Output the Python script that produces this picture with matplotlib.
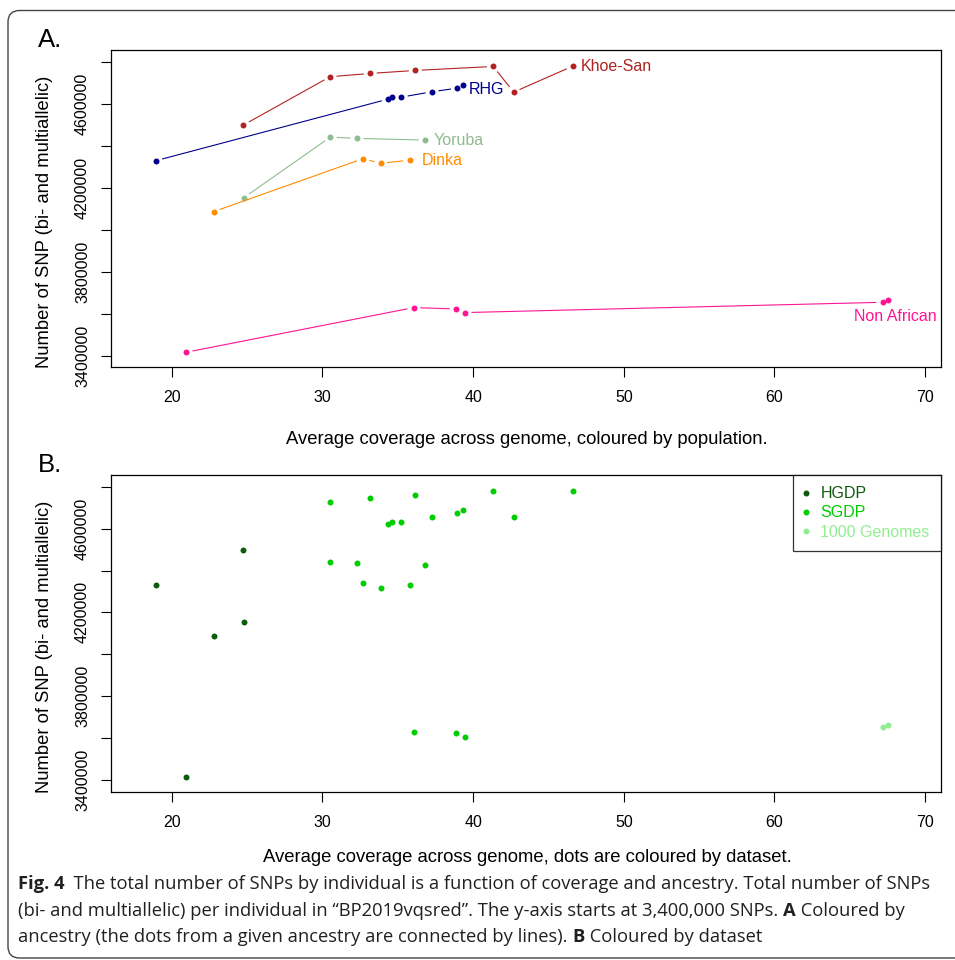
import numpy as np
import matplotlib
matplotlib.use('Agg')
import matplotlib.pyplot as plt
from matplotlib import font_manager
from matplotlib.lines import Line2D
from matplotlib.patches import FancyBboxPatch

# per-individual values
coverage = [24.74, 30.50, 33.17, 36.16, 41.34, 42.69, 46.61,
            18.94, 34.35, 34.63, 35.23, 37.27, 38.95, 39.35,
            24.78, 30.52, 32.29, 36.82,
            22.77, 32.69, 33.86, 35.78,
            20.95, 36.06, 38.88, 39.46, 67.19, 67.51]
snps = [4498000, 4728600, 4744300, 4758600, 4777600, 4655200, 4779000,
        4328600, 4621900, 4630000, 4631400, 4657100, 4674300, 4687100,
        4152400, 4440900, 4434800, 4426700,
        4085700, 4338100, 4315700, 4331400,
        3415700, 3628600, 3621900, 3604800, 3653800, 3663300]
population = ['Khoe-San'] * 7 + ['RHG'] * 7 + ['Yoruba'] * 4 + ['Dinka'] * 4 + ['Non African'] * 6
dataset = ['HGDP'] + ['SGDP'] * 6 + ['HGDP'] + ['SGDP'] * 6 + ['HGDP'] + ['SGDP'] * 3 \
    + ['HGDP'] + ['SGDP'] * 3 + ['HGDP'] + ['SGDP'] * 3 + ['1000 Genomes'] * 2

populations = ['Khoe-San', 'RHG', 'Yoruba', 'Dinka', 'Non African']
datasets = ['HGDP', 'SGDP', '1000 Genomes']

xtick_values = [20, 30, 40, 50, 60, 70]
ytick_values = [3400000, 3600000, 3800000, 4000000, 4200000, 4400000, 4600000, 4800000]
ytick_labels = ['3400000', '', '3800000', '', '4200000', '', '4600000', '']

pop_colors = {'Khoe-San': '#B22222', 'RHG': '#00008B', 'Yoruba': '#8FBC8F',
              'Dinka': '#FF8C00', 'Non African': '#FF1493'}
set_colors = {'HGDP': '#0E5A0E', 'SGDP': '#00CD00', '1000 Genomes': '#90EE90'}

coverage = np.array(coverage)
snps = np.array(snps)
population = np.array(population)
dataset = np.array(dataset)


def pick_font(names):
    have = {f.name for f in font_manager.fontManager.ttflist}
    for n in names:
        if n in have:
            return n
    return 'DejaVu Sans'


plot_font = pick_font(['Liberation Sans', 'Arial', 'DejaVu Sans'])
cap_font = pick_font(['Liberation Sans Narrow', 'Open Sans', 'Noto Sans'])
plt.rcParams['font.family'] = [plot_font, 'DejaVu Sans']

W, H = 955, 960
fig = plt.figure(figsize=(W / 100, H / 100), dpi=100)


def px_axes(left, top, right, bottom):
    return fig.add_axes([left / W, 1 - bottom / H, (right - left) / W, (bottom - top) / H])


def style_axes(ax):
    ax.set_xlim(15.96, 71.04)
    ax.set_ylim(3344000, 4856000)
    ax.set_xticks(xtick_values)
    ax.set_xticklabels([str(v) for v in xtick_values])
    ax.set_yticks(ytick_values)
    ax.set_yticklabels(ytick_labels, rotation=90, va='center', ha='center')
    ax.tick_params(length=7.5, width=0.8, labelsize=11.5, direction='out')
    ax.tick_params(axis='x', pad=9)
    ax.tick_params(axis='y', pad=13)
    for s in ax.spines.values():
        s.set_linewidth(0.9)


def gapped_line(ax, xs, ys, color, gap=7):
    # R type="b": segments stop short of the points
    pts = ax.transData.transform(np.column_stack([xs, ys]))
    inv = ax.transData.inverted()
    for p, q in zip(pts[:-1], pts[1:]):
        d = q - p
        L = np.hypot(d[0], d[1])
        if L <= 2 * gap + 1:
            continue
        u = d / L
        a, b = inv.transform(np.array([p + u * gap, q - u * gap]))
        ax.plot([a[0], b[0]], [a[1], b[1]], color=color, lw=0.8)


# ---- panel A: by population
axA = px_axes(111, 50, 940.7, 367.3)
style_axes(axA)
for pop in populations:
    m = population == pop
    order = np.argsort(coverage[m])
    xs, ys = coverage[m][order], snps[m][order]
    gapped_line(axA, xs, ys, pop_colors[pop])
    axA.plot(xs, ys, 'o', ms=4.3, color=pop_colors[pop], mec='none')

label_pos = {'Khoe-San': (47.14, 4776000, 'left'), 'RHG': (39.71, 4668000, 'left'),
             'Yoruba': (37.36, 4427000, 'left'), 'Dinka': (36.59, 4329000, 'left'),
             'Non African': (68.04, 3586000, 'center')}
for pop in populations:
    x, y, ha = label_pos[pop]
    axA.text(x, y, pop, color=pop_colors[pop], fontsize=11.5, ha=ha, va='center')

# ---- panel B: by dataset
axB = px_axes(111, 475, 940.7, 791.7)
style_axes(axB)
for ds in datasets:
    m = dataset == ds
    axB.plot(coverage[m], snps[m], 'o', ms=4.3, color=set_colors[ds], mec='none')

handles = [Line2D([], [], ls='none', marker='o', ms=4.3, color=set_colors[ds], mec='none')
           for ds in datasets]
leg = axB.legend(handles, datasets, loc='upper right', borderaxespad=0, fancybox=False,
                 edgecolor='black', fontsize=11.5, handlelength=0.18, handletextpad=0.83,
                 labelspacing=0.27, borderpad=0.7, labelcolor=[set_colors[d] for d in datasets])
leg.get_frame().set_linewidth(0.9)

# ---- labels
fig.text(37.5 / W, 1 - 40 / H, 'A.', fontsize=18.5, va='center', ha='left')
fig.text(37.5 / W, 1 - 465 / H, 'B.', fontsize=18.5, va='center', ha='left')
ylab = 'Number of SNP (bi- and multiallelic)'
fig.text(44.5 / W, 1 - 222 / H, ylab, rotation=90, fontsize=13.2, ha='center', va='center')
fig.text(44.5 / W, 1 - 646.7 / H, ylab, rotation=90, fontsize=13.2, ha='center', va='center')
fig.text(527 / W, 1 - 439 / H, 'Average coverage across genome, coloured by population.',
         fontsize=13.3, ha='center', va='center')
fig.text(527 / W, 1 - 858 / H, 'Average coverage across genome, dots are coloured by dataset.',
         fontsize=13.3, ha='center', va='center')

# ---- caption
cap_lines = [
    [('Fig. 4', 'bold'), ('  The total number of SNPs by individual is a function of coverage and '
                          'ancestry. Total number of SNPs', 'normal')],
    [('(bi- and multiallelic) per individual in \u201cBP2019vqsred\u201d. The y-axis starts at '
      '3,400,000 SNPs. ', 'normal'), ('A', 'bold'), (' Coloured by', 'normal')],
    [('ancestry (the dots from a given ancestry are connected by lines). ', 'normal'),
     ('B', 'bold'), (' Coloured by dataset', 'normal')],
]
cap_y = [884, 910.5, 937]
for parts, y in zip(cap_lines, cap_y):
    t = fig.text(18 / W, 1 - y / H, parts[0][0], fontweight=parts[0][1], family=cap_font,
                 fontsize=13.25, color='#231F20', va='center', ha='left')
    for s, w in parts[1:]:
        t = axB.annotate(s, xy=(1, 0), xycoords=t, va='bottom', ha='left', fontweight=w,
                         family=cap_font, fontsize=13.25, color='#231F20', annotation_clip=False)

# rounded frame around the whole figure
frame = FancyBboxPatch((8 / W, 1 - 958 / H), 970 / W, 947.5 / H, transform=fig.transFigure,
                       boxstyle='round,pad=0,rounding_size=0.012', fill=False,
                       edgecolor='#444444', lw=1.0)
fig.patches.append(frame)

fig.savefig('out.png', dpi=100)
